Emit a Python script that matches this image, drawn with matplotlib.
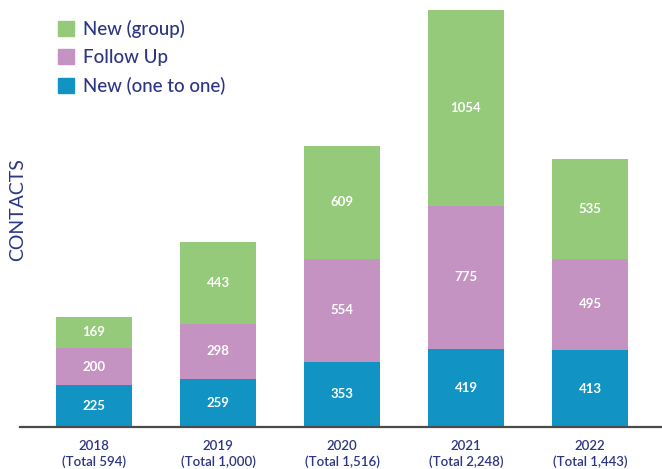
import matplotlib

matplotlib.use("Agg")

import matplotlib.pyplot as plt
import numpy as np
from matplotlib.patches import Patch


YEARS = ["2018", "2019", "2020", "2021", "2022"]
NEW_ONE_TO_ONE = [225, 259, 353, 419, 413]
FOLLOW_UP = [200, 298, 554, 775, 495]
NEW_GROUP = [169, 443, 609, 1054, 535]

BLUE = "#1194C3"
PURPLE = "#C493C2"
GREEN = "#94CA79"
NAVY = "#2C3683"

plt.rcParams["font.family"] = ["Lato", "DejaVu Sans"]


def main():
    W, H = 662, 469
    fig = plt.figure(figsize=(W / 100, H / 100), dpi=100)
    ax = fig.add_axes([20 / W, (H - 427) / H, 642 / W, 417 / H])

    blue = np.array(NEW_ONE_TO_ONE)
    purple = np.array(FOLLOW_UP)
    green = np.array(NEW_GROUP)
    totals = blue + purple + green

    x = np.arange(len(YEARS))
    width = 0.613

    stacks = [(blue, 0, BLUE), (purple, blue, PURPLE), (green, blue + purple, GREEN)]
    for vals, bottom, color in stacks:
        bars = ax.bar(x, vals, width, bottom=bottom, color=color, linewidth=0)
        for rect, v in zip(bars, vals):
            cy = rect.get_y() + rect.get_height() / 2
            ax.text(rect.get_x() + rect.get_width() / 2, cy, str(v),
                    ha="center", va="center", color="white",
                    fontsize=9.5, fontweight="bold")

    ax.set_xlim((20 - 94) / 124, (662 - 94) / 124)
    ax.set_ylim(0, totals.max())

    for side in ["top", "right", "left"]:
        ax.spines[side].set_visible(False)
    ax.spines["bottom"].set_color("#4a4a4a")
    ax.spines["bottom"].set_linewidth(1.6)
    ax.set_yticks([])

    labels = ["%s\n(Total %s)" % (y, format(t, ",")) for y, t in zip(YEARS, totals)]
    ax.set_xticks(x)
    ax.set_xticklabels(labels, color=NAVY, fontsize=9.5, fontweight="semibold",
                       linespacing=1.35)
    ax.tick_params(axis="x", length=0, pad=9)

    fig.text(18 / W, 1 - 210 / H, "CONTACTS", rotation=90, ha="center", va="center",
             color=NAVY, fontsize=14)

    handles = [Patch(color=GREEN), Patch(color=PURPLE), Patch(color=BLUE)]
    names = ["New (group)", "Follow Up", "New (one to one)"]
    leg = fig.legend(handles, names, loc="upper left",
                     bbox_to_anchor=(41 / W, 1 - 3 / H), frameon=False,
                     handlelength=0.85, handleheight=0.85, handletextpad=0.5,
                     labelspacing=0.58, fontsize=13.5)
    for t in leg.get_texts():
        t.set_color(NAVY)
        t.set_fontweight("medium")

    fig.savefig("out.png", dpi=100)
    plt.close(fig)


if __name__ == "__main__":
    main()
